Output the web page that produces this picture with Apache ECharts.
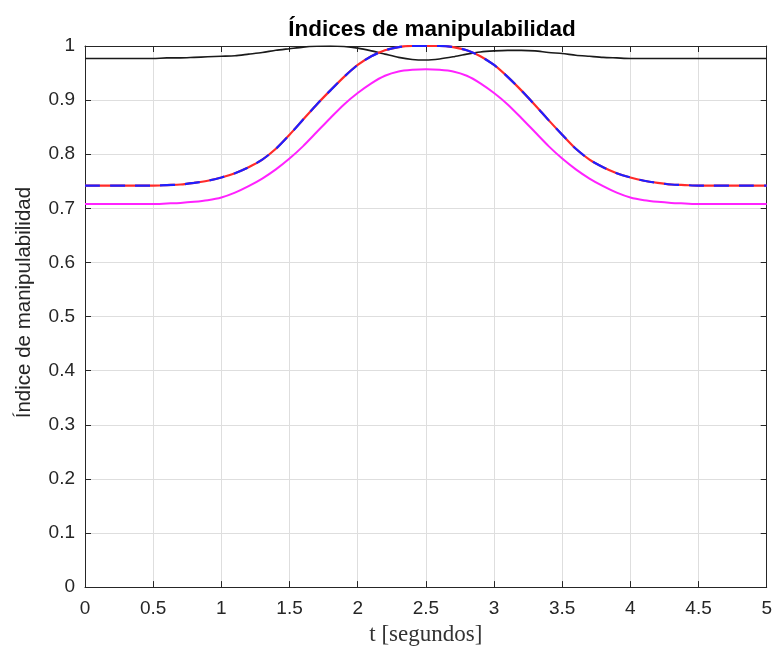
<!DOCTYPE html>
<html>
<head>
<meta charset="utf-8">
<script src="https://cdn.jsdelivr.net/npm/echarts@6/dist/echarts.min.js"></script>
<style>
  html, body { margin: 0; padding: 0; background: #ffffff; }
  #chart { width: 775px; height: 651px; }
</style>
</head>
<body>
<div id="chart"></div>
<script>
// Sample times (s)
const tiempo = [
  0.0, 0.1, 0.2, 0.3, 0.4, 0.5, 0.6, 0.7, 0.8, 0.9,
  1.0, 1.1, 1.2, 1.3, 1.4, 1.5, 1.6, 1.7, 1.8, 1.9,
  2.0, 2.1, 2.2, 2.3, 2.4, 2.5, 2.6, 2.7, 2.8, 2.9,
  3.0, 3.1, 3.2, 3.3, 3.4, 3.5, 3.6, 3.7, 3.8, 3.9,
  4.0, 4.1, 4.2, 4.3, 4.4, 4.5, 4.6, 4.7, 4.8, 4.9, 5.0
];

// Black curve
const indiceNegro = [
  0.977, 0.977, 0.977, 0.977, 0.977, 0.977, 0.978, 0.978, 0.979, 0.980,
  0.981, 0.982, 0.985, 0.988, 0.992, 0.995, 0.998, 0.9995, 1.000, 0.999,
  0.996, 0.991, 0.985, 0.979, 0.975, 0.974, 0.976, 0.980, 0.985, 0.989,
  0.991, 0.992, 0.992, 0.991, 0.988, 0.986, 0.983, 0.981, 0.979, 0.978,
  0.977, 0.977, 0.977, 0.977, 0.977, 0.977, 0.977, 0.977, 0.977, 0.977, 0.977
];

// Red solid / blue dashed curve (same values)
const indiceAzul = [
  0.742, 0.742, 0.742, 0.742, 0.742, 0.742, 0.743, 0.744, 0.747, 0.751,
  0.757, 0.765, 0.776, 0.790, 0.810, 0.836, 0.864, 0.892, 0.918, 0.943,
  0.965, 0.981, 0.992, 0.998, 1.000, 1.000, 1.000, 0.998, 0.992, 0.981,
  0.965, 0.943, 0.918, 0.891, 0.863, 0.836, 0.810, 0.790, 0.776, 0.765,
  0.757, 0.751, 0.747, 0.744, 0.743, 0.742, 0.742, 0.742, 0.742, 0.742, 0.742
];

// Magenta curve
const indiceMagenta = [
  0.708, 0.708, 0.708, 0.708, 0.708, 0.708, 0.709, 0.710, 0.712, 0.715,
  0.720, 0.729, 0.741, 0.755, 0.772, 0.792, 0.815, 0.841, 0.867, 0.892,
  0.913, 0.931, 0.945, 0.953, 0.956, 0.957, 0.956, 0.953, 0.945, 0.931,
  0.913, 0.892, 0.867, 0.841, 0.815, 0.792, 0.772, 0.755, 0.741, 0.729,
  0.720, 0.715, 0.712, 0.710, 0.709, 0.708, 0.708, 0.708, 0.708, 0.708, 0.708
];

const xTicks = [0, 0.5, 1, 1.5, 2, 2.5, 3, 3.5, 4, 4.5, 5];
const yTicks = [0, 0.1, 0.2, 0.3, 0.4, 0.5, 0.6, 0.7, 0.8, 0.9, 1];

const pares = (vals) => tiempo.map((t, i) => [t, vals[i]]);

const ejeColor = '#262626';
const rejilla = '#dedede';
const fuente = 'Liberation Sans, Arial, Helvetica, sans-serif';
const suavizado = 0.25;

const chart = echarts.init(document.getElementById('chart'), null, { renderer: 'canvas' });

const ejeBase = {
  type: 'value',
  axisLine: { show: true, onZero: false, lineStyle: { color: ejeColor, width: 1 } },
  axisTick: { show: true, inside: true, length: 6, lineStyle: { color: ejeColor } }
};

const option = {
  animation: false,
  backgroundColor: '#ffffff',
  title: {
    text: 'Índices de manipulabilidad',
    left: 427, top: 13, textAlign: 'center',
    textStyle: { fontFamily: fuente, fontSize: 22.5, fontWeight: 'bold', color: '#000000' }
  },
  grid: { left: 85, right: 5, top: 46, bottom: 63, containLabel: false },
  xAxis: [Object.assign({}, ejeBase, {
    min: xTicks[0], max: xTicks[xTicks.length - 1], interval: 0.5,
    name: 't [segundos]', nameLocation: 'middle', nameGap: 30,
    nameTextStyle: { fontFamily: 'Liberation Serif, Times New Roman, serif', fontSize: 23, color: '#333333' },
    axisLabel: { margin: 12, fontFamily: fuente, fontSize: 19, color: ejeColor },
    splitLine: { show: true, lineStyle: { color: rejilla, width: 1 } }
  }), Object.assign({}, ejeBase, {
    position: 'top', min: xTicks[0], max: xTicks[xTicks.length - 1], interval: 0.5,
    axisLabel: { show: false }, splitLine: { show: false }
  })],
  yAxis: [Object.assign({}, ejeBase, {
    min: yTicks[0], max: yTicks[yTicks.length - 1], interval: 0.1,
    name: 'Índice de manipulabilidad', nameLocation: 'middle', nameGap: 50, nameRotate: 90,
    nameTextStyle: { fontFamily: fuente, fontSize: 20.5, color: ejeColor, padding: [0, 0, 0, 28] },
    axisLabel: { margin: 10, fontFamily: fuente, fontSize: 19, color: ejeColor,
      formatter: (v) => String(Math.round(v * 10) / 10) },
    splitLine: { show: true, lineStyle: { color: rejilla, width: 1 } }
  }), Object.assign({}, ejeBase, {
    position: 'right', min: yTicks[0], max: yTicks[yTicks.length - 1], interval: 0.1,
    axisLabel: { show: false }, splitLine: { show: false }
  })],
  series: [
    {
      name: 'negro', type: 'line', smooth: suavizado, showSymbol: false,
      data: pares(indiceNegro), lineStyle: { color: '#1a1a1a', width: 1.6 }, z: 3
    },
    {
      name: 'rojo', type: 'line', smooth: suavizado, showSymbol: false,
      data: pares(indiceAzul), lineStyle: { color: '#ff2a2a', width: 2.2 }, z: 4
    },
    {
      name: 'azul', type: 'line', smooth: suavizado, showSymbol: false,
      data: pares(indiceAzul), lineStyle: { color: '#1f1fff', width: 2.2, type: [15, 10] }, z: 5
    },
    {
      name: 'magenta', type: 'line', smooth: suavizado, showSymbol: false,
      data: pares(indiceMagenta), lineStyle: { color: '#ff22ff', width: 2 }, z: 4
    }
  ]
};

chart.setOption(option);
</script>
</body>
</html>
